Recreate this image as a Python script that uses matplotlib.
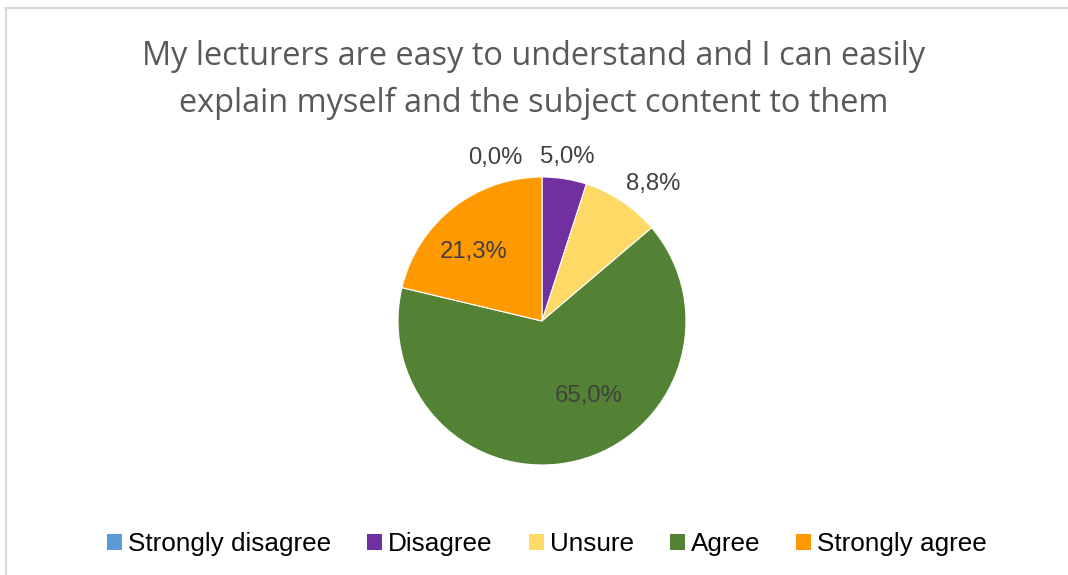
import matplotlib
matplotlib.use("Agg")
import matplotlib.pyplot as plt
from matplotlib.lines import Line2D
from matplotlib.patches import Patch

categories = ["Strongly disagree", "Disagree", "Unsure", "Agree", "Strongly agree"]
values = [0.0, 5.0, 8.8, 65.0, 21.3]
value_labels = ["0,0%", "5,0%", "8,8%", "65,0%", "21,3%"]
colors = ["#5B9BD5", "#7030A0", "#FFD966", "#548235", "#FF9900"]
title = "My lecturers are easy to understand and I can easily\nexplain myself and the subject content to them"

W, H = 1068, 575
fig = plt.figure(figsize=(W / 100, H / 100), dpi=100)
fig.patch.set_facecolor("white")

# chart-area frame (top and left edges)
fig.add_artist(Line2D([6 / W, 1], [1 - 8 / H, 1 - 8 / H], color="#D9D9D9", lw=1.5))
fig.add_artist(Line2D([6 / W, 6 / W], [0, 1 - 8 / H], color="#D9D9D9", lw=1.5))

cx, cy, r = 542, 321, 144
ax = fig.add_axes([(cx - r) / W, (H - cy - r) / H, 2 * r / W, 2 * r / H])
wedges, _ = ax.pie(values, colors=colors, startangle=90, counterclock=False,
                   radius=1.0, wedgeprops=dict(linewidth=0.8, edgecolor="white"))
ax.set_xlim(-1, 1)
ax.set_ylim(-1, 1)
ax.set_aspect("equal")
ax.axis("off")

# data labels, placed in pixel offsets from the pie centre
label_px = [(495, 158), (567, 157), (653, 184), (589, 396), (474, 252)]
for txt, (px, py) in zip(value_labels, label_px):
    ax.text((px - cx) / r, (cy - py) / r, txt, ha="center", va="center",
            fontsize=17.2, color="#404040", family="Liberation Sans")

fig.text(0.5, 1 - 80 / H, title, ha="center", va="center", fontsize=23.4,
         color="#595959", family="Open Sans", linespacing=1.56)

handles = [Patch(facecolor=c, edgecolor="none") for c in colors]
leg = fig.legend(handles, categories, loc="center", bbox_to_anchor=(547 / W, 1 - 544 / H),
                 ncol=5, frameon=False, prop=dict(family="Liberation Sans", size=18.8),
                 handlelength=0.58, handleheight=0.58, handletextpad=0.22,
                 columnspacing=1.38, borderpad=0)
for t in leg.get_texts():
    t.set_color("#000000")

fig.savefig("out.png", dpi=100)
